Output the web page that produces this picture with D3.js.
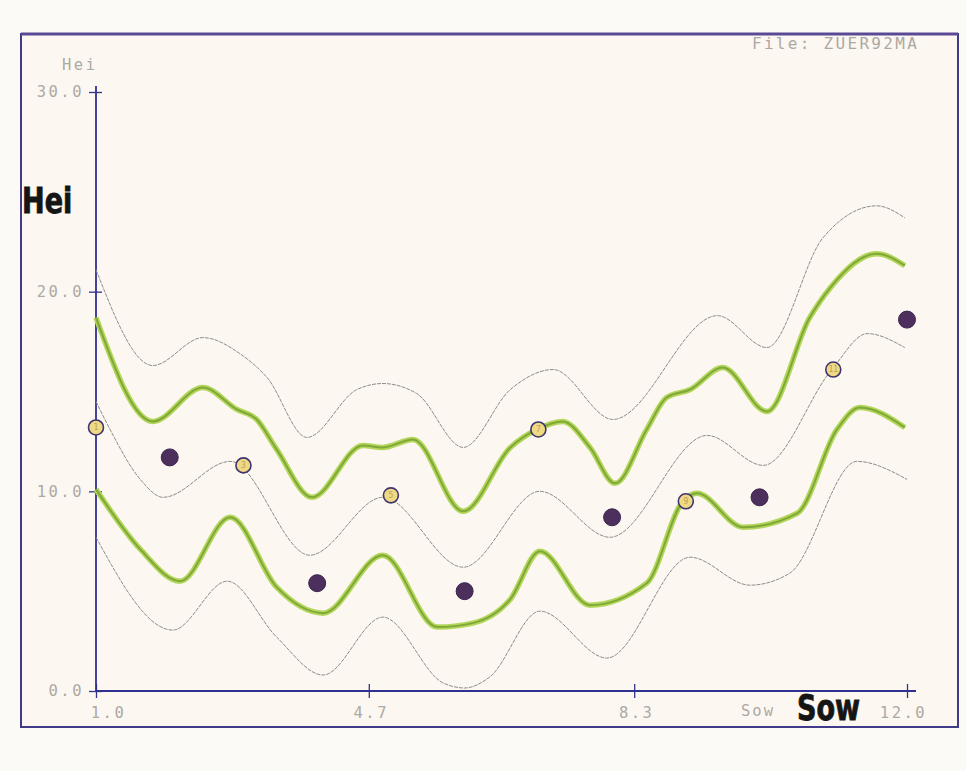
<!DOCTYPE html>
<html><head><meta charset="utf-8">
<script src="https://cdn.jsdelivr.net/npm/d3@7"></script>
<style>
html,body{margin:0;padding:0;background:#fbfaf7;}
svg{display:block;}
</style></head>
<body>
<svg id="c" width="966" height="771"></svg>
<script>
// ---- data ----
const xTicks = [1.0, 4.7, 8.3, 12.0];
const yTicks = [0, 10, 20, 30];

const greyTopX = [1.0, 1.77, 2.45, 2.95, 3.32, 3.86, 4.54, 4.89, 5.35, 5.98, 6.62, 7.20, 8.01, 9.43, 10.10, 10.86, 11.59, 11.97];
const greyTopY = [21.1, 16.3, 17.7, 16.9, 15.7, 12.7, 15.1, 15.4, 14.9, 12.2, 15.1, 16.1, 13.6, 18.8, 17.2, 22.7, 24.3, 23.7];

const greenUpX = [1.0, 1.77, 2.45, 2.91, 3.18, 3.45, 3.93, 4.62, 4.89, 5.30, 5.98, 6.62, 6.98, 7.33, 7.70, 8.04, 8.47, 8.74, 9.06, 9.50, 10.10, 10.68, 10.96, 11.59, 11.97];
const greenUpY = [18.7, 13.5, 15.2, 14.1, 13.6, 12.1, 9.7, 12.3, 12.2, 12.6, 9.0, 12.2, 13.1, 13.5, 12.2, 10.4, 13.1, 14.7, 15.1, 16.2, 14.0, 18.7, 20.2, 21.9, 21.3];

const greyMidX = [1.0, 1.19, 1.60, 1.91, 2.82, 3.90, 4.89, 5.98, 7.02, 7.97, 9.29, 10.05, 10.98, 11.46, 11.97];
const greyMidY = [14.5, 13.1, 10.6, 9.7, 11.5, 6.8, 9.7, 6.2, 10.0, 7.7, 12.8, 11.3, 16.1, 17.9, 17.2];

const greenLoX = [1.0, 1.60, 2.14, 2.82, 3.45, 4.08, 4.89, 5.63, 6.11, 6.62, 7.02, 7.70, 8.47, 8.96, 9.15, 9.78, 10.51, 11.05, 11.36, 11.97];
const greenLoY = [10.1, 7.1, 5.5, 8.7, 5.2, 3.9, 6.8, 3.2, 3.4, 4.6, 7.0, 4.3, 5.4, 9.5, 9.9, 8.2, 8.9, 13.1, 14.2, 13.2];

const greyLowX = [1.0, 2.04, 2.78, 3.45, 4.08, 4.89, 5.71, 6.0, 6.34, 7.02, 7.93, 9.06, 9.87, 10.41, 11.32, 12.0];
const greyLowY = [7.7, 3.05, 5.5, 2.7, 0.8, 3.7, 0.4, 0.15, 0.7, 4.0, 1.65, 6.7, 5.3, 5.9, 11.5, 10.6];

const openMonths = [1, 3, 5, 7, 9, 11];
const openValues = [13.2, 11.3, 9.8, 13.1, 9.5, 16.1];
const fullMonths = [2, 4, 6, 8, 10, 12];
const fullValues = [11.7, 5.4, 5.0, 8.7, 9.7, 18.6];

// ---- drawing ----
const svg = d3.select("#c");
const x = d3.scaleLinear().domain([1, 12]).range([96, 907]);
const y = d3.scaleLinear().domain([0, 30]).range([691, 92]);

// frame
svg.append("rect").attr("x", 21).attr("y", 34).attr("width", 937).attr("height", 693)
  .attr("fill", "#fcf8f1").attr("stroke", "#403a88").attr("stroke-width", 2);
svg.append("line").attr("x1", 21).attr("x2", 958).attr("y1", 34).attr("y2", 34)
  .attr("stroke", "#5a4a96").attr("stroke-width", 3);

const mono = "'DejaVu Sans Mono', 'Liberation Mono', monospace";
const grey = "#aca8a4";
const LS = 2.5;

// axes
const yAx = svg.append("g").attr("transform", "translate(96,0)")
  .call(d3.axisLeft(y).tickValues(yTicks).tickFormat(d3.format(".1f")).tickSize(7).tickPadding(5));
const yAx2 = svg.append("g").attr("transform", "translate(96,0)")
  .call(d3.axisRight(y).tickValues(yTicks).tickFormat("").tickSize(6));
const xAx = svg.append("g").attr("transform", "translate(0,691)")
  .call(d3.axisBottom(x).tickValues(xTicks).tickFormat(d3.format(".1f")).tickSize(7).tickPadding(9));
const xAx2 = svg.append("g").attr("transform", "translate(0,691)")
  .call(d3.axisTop(x).tickValues(xTicks).tickFormat("").tickSize(7));
[yAx, yAx2, xAx, xAx2].forEach(g => {
  g.select(".domain").remove();
  g.selectAll(".tick line").attr("stroke", "#33338a").attr("stroke-width", 1.3);
  g.selectAll(".tick text").attr("fill", grey).attr("font-family", mono)
    .attr("font-size", 15.5).attr("letter-spacing", LS);
});
xAx.selectAll(".tick text").attr("dx", (d, i) => i === 0 ? 12 : (i === 3 ? -4 : 2));
// axis lines
svg.append("line").attr("x1", 96).attr("x2", 96).attr("y1", y(30) - 6).attr("y2", y(0))
  .attr("stroke", "#2f3090").attr("stroke-width", 1.8);
svg.append("line").attr("x1", 96).attr("x2", x(12) + 9).attr("y1", y(0)).attr("y2", y(0))
  .attr("stroke", "#2f3090").attr("stroke-width", 1.8);

// texts
svg.append("text").attr("x", 62).attr("y", 70)
  .attr("fill", grey).attr("font-family", mono).attr("font-size", 15.5).attr("letter-spacing", LS).text("Hei");
svg.append("text").attr("x", 741).attr("y", 716)
  .attr("fill", grey).attr("font-family", mono).attr("font-size", 15.5).attr("letter-spacing", 2).text("Sow");
svg.append("text").attr("x", 752).attr("y", 49)
  .attr("fill", grey).attr("font-family", mono).attr("font-size", 16).attr("letter-spacing", 2.3).text("File: ZUER92MA");
const bold = "'Liberation Sans Narrow', 'DejaVu Sans Condensed', 'Roboto Condensed', sans-serif";
svg.append("text").attr("x", 22).attr("y", 213).attr("fill", "#151515")
  .attr("font-family", bold).attr("font-weight", "bold").attr("font-size", 35)
  .attr("stroke", "#151515").attr("stroke-width", 0.8)
  .attr("transform", "translate(22,213) scale(0.86,1) translate(-22,-213)").text("Hei");
svg.append("text").attr("x", 797).attr("y", 720).attr("fill", "#151515")
  .attr("font-family", bold).attr("font-weight", "bold").attr("font-size", 35)
  .attr("stroke", "#151515").attr("stroke-width", 0.8)
  .attr("transform", "translate(797,720) scale(0.86,1) translate(-797,-720)").text("Sow");

// lines
const line = d3.line().x(d => x(d[0])).y(d => y(d[1])).curve(d3.curveMonotoneX);
const zip = (a, b) => a.map((v, i) => [v, b[i]]);
[[greyTopX, greyTopY], [greyMidX, greyMidY], [greyLowX, greyLowY]].forEach(([a, b]) => {
  svg.append("path").attr("d", line(zip(a, b))).attr("fill", "none")
    .attr("stroke", "#8e8c8a").attr("stroke-width", 1).attr("stroke-dasharray", "4,1");
});
[[greenUpX, greenUpY], [greenLoX, greenLoY]].forEach(([a, b]) => {
  svg.append("path").attr("d", line(zip(a, b))).attr("fill", "none")
    .attr("stroke", "#b3d65a").attr("stroke-width", 5.5).attr("stroke-linejoin", "round");
  svg.append("path").attr("d", line(zip(a, b))).attr("fill", "none")
    .attr("stroke", "#7fa838").attr("stroke-width", 2).attr("stroke-linejoin", "round");
});

// points
const full = svg.append("g");
full.selectAll("circle").data(zip(fullMonths, fullValues)).join("circle")
  .attr("cx", d => x(d[0])).attr("cy", d => y(d[1])).attr("r", 8.5)
  .attr("fill", "#4d2f5e").attr("stroke", "#3c2450").attr("stroke-width", 1);
const open = svg.append("g").selectAll("g").data(zip(openMonths, openValues)).join("g")
  .attr("transform", d => `translate(${x(d[0])},${y(d[1])})`);
open.append("circle").attr("r", 7.5).attr("fill", "#efd983")
  .attr("stroke", "#3e3470").attr("stroke-width", 1.6);
open.append("text").attr("text-anchor", "middle").attr("dy", "0.35em")
  .attr("font-family", mono).attr("font-size", 8).attr("fill", "#bba15a")
  .text(d => d[0]);
</script>
</body></html>
